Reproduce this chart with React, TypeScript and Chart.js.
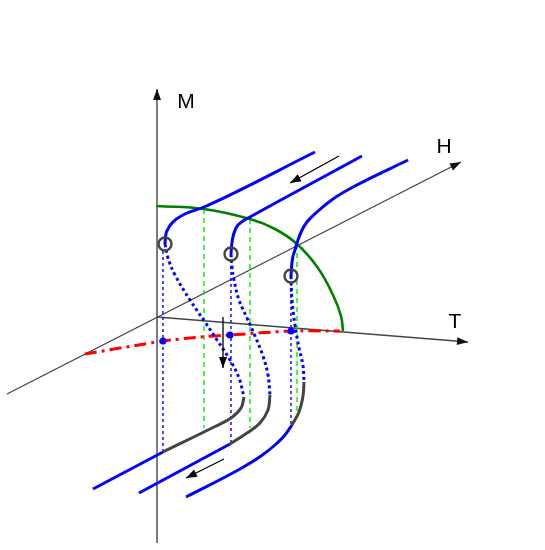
import React, { useEffect, useRef } from "react";
import { Chart, registerables } from "chart.js";

Chart.register(...registerables);

type P = [number, number];

// Axes (origin at M/H/T meeting point)
const axisM: P[] = [[157, 543], [157, 89]];
const axisH: P[] = [[7, 394], [461, 162]];
const axisT: P[] = [[157, 317], [468, 342]];

// Upper blue branches
const upper1: P[] = [[165, 244], [165.5, 237], [168, 229], [173, 222], [183, 215], [204, 207], [315, 152]];
const upper2: P[] = [[231, 254], [231.5, 247], [232.5, 239], [236, 228], [243, 221], [250, 217], [362, 156]];
const upper3: P[] = [[291, 276], [292, 262], [295, 250], [298, 240], [302, 230], [307, 222], [317, 212], [333, 199], [353, 187], [408, 160]];

// Dotted unstable branches
const dotted1: P[] = [[165, 244], [168, 258], [175, 275], [190, 300], [205, 322], [217, 340], [230, 360], [239, 378], [244, 397]];
const dotted2: P[] = [[231, 254], [232, 268], [234, 280], [239, 300], [247, 318], [255, 336], [263, 356], [268, 375], [270, 395]];
const dotted3: P[] = [[291, 276], [292, 300], [295, 325], [299, 348], [303, 366], [304, 382]];

// Dark gray metastable pieces
const gray1: P[] = [[244, 397], [241, 408], [231, 418], [212, 428], [163, 452]];
const gray2: P[] = [[270, 395], [268, 410], [260, 423], [247, 433], [230, 444]];
const gray3: P[] = [[304, 382], [303, 396], [299, 412], [292, 425]];

// Lower blue branches
const lower1: P[] = [[93, 489], [163, 452]];
const lower2: P[] = [[139, 493], [230, 444]];
const lower3: P[] = [[186, 497], [240, 469], [261, 456], [275, 445], [285, 435], [292, 425]];

// Green critical curve
const greenCurve: P[] = [[157, 206], [204, 209], [250, 219], [275, 229], [297, 244], [318, 268], [333, 295], [341, 316], [343, 331]];

// Red dash-dot projection
const redLine: P[] = [[85, 354], [163, 341], [200, 337], [230, 335], [291, 331], [340, 331]];

// Green dashed verticals
const greenV1: P[] = [[204, 209], [204, 428]];
const greenV2: P[] = [[250, 219], [250, 428]];
const greenV3: P[] = [[297, 244], [297, 413]];

// Blue dotted verticals
const blueV1: P[] = [[163, 251], [163, 452]];
const blueV2: P[] = [[231, 260], [231, 444]];
const blueV3: P[] = [[291, 283], [291, 425]];

const blueDots: P[] = [[163, 341], [230, 335], [291, 331]];
const circles: P[] = [[165, 244], [231, 254], [291, 276]];

// Direction arrows [from, to]
const arrowTop: P[] = [[339, 156], [290, 183]];
const arrowBottom: P[] = [[224, 459], [186, 478]];
const arrowDown: P[] = [[223, 317], [223, 368]];

const labels: { text: string; at: P }[] = [
  { text: "M", at: [186, 102] },
  { text: "H", at: [444, 147] },
  { text: "T", at: [455, 322] },
];

const toXY = (a: P[]) => a.map(([x, y]) => ({ x, y }));

function line(data: P[], color: string, width: number, dash: number[] = [], tension = 0.4, mono = false) {
  return {
    data: toXY(data),
    showLine: true,
    borderColor: color,
    backgroundColor: color,
    borderWidth: width,
    borderDash: dash,
    pointRadius: 0,
    tension,
    cubicInterpolationMode: mono ? "monotone" : "default",
    fill: false,
    borderCapStyle: "butt" as const,
  };
}

const overlay = {
  id: "overlay",
  afterDatasetsDraw(chart: any) {
    const { ctx, scales } = chart;
    const px = (p: P) => [scales.x.getPixelForValue(p[0]), scales.y.getPixelForValue(p[1])];
    const head = (from: P, to: P, color: string, len: number, hw: number) => {
      const [x1, y1] = px(from);
      const [x2, y2] = px(to);
      const a = Math.atan2(y2 - y1, x2 - x1);
      ctx.save();
      ctx.fillStyle = color;
      ctx.beginPath();
      ctx.moveTo(x2, y2);
      ctx.lineTo(x2 - len * Math.cos(a) + hw * Math.sin(a), y2 - len * Math.sin(a) - hw * Math.cos(a));
      ctx.lineTo(x2 - len * Math.cos(a) - hw * Math.sin(a), y2 - len * Math.sin(a) + hw * Math.cos(a));
      ctx.closePath();
      ctx.fill();
      ctx.restore();
    };
    head(axisM[0], axisM[1], "#111", 11, 4);
    head(axisH[0], axisH[1], "#111", 11, 4);
    head(axisT[0], axisT[1], "#111", 11, 4);
    head(arrowTop[0], arrowTop[1], "#000", 11, 4);
    head(arrowBottom[0], arrowBottom[1], "#000", 11, 4);
    head(arrowDown[0], arrowDown[1], "#000", 11, 4);
    ctx.save();
    ctx.fillStyle = "#000";
    ctx.font = '21px "Liberation Sans", Arial, sans-serif';
    ctx.textAlign = "center";
    ctx.textBaseline = "middle";
    labels.forEach((l) => {
      const [x, y] = px(l.at);
      ctx.fillText(l.text, x, y);
    });
    ctx.restore();
  },
};

export default function App() {
  const ref = useRef<HTMLCanvasElement | null>(null);
  useEffect(() => {
    if (!ref.current) return;
    const datasets: any[] = [
      {
        data: toXY(circles),
        showLine: false,
        pointRadius: 6.5,
        pointBorderWidth: 2.4,
        pointBorderColor: "#444",
        pointBackgroundColor: "rgba(0,0,0,0)",
      },
      {
        data: toXY(blueDots),
        showLine: false,
        pointRadius: 3.5,
        pointBorderWidth: 0,
        pointBackgroundColor: "#0000ff",
      },
      line(arrowTop, "#000", 1.3, [], 0),
      line(arrowBottom, "#000", 1.3, [], 0),
      line(arrowDown, "#000", 1.3, [], 0),
      line(upper1, "#0000ff", 3, [], 0.4, true),
      line(upper2, "#0000ff", 3, [], 0.4, true),
      line(upper3, "#0000ff", 3, [], 0.4, true),
      line(lower1, "#0000ff", 3, [], 0),
      line(lower2, "#0000ff", 3, [], 0),
      line(lower3, "#0000ff", 3, [], 0.4, true),
      line(gray1, "#444444", 3),
      line(gray2, "#444444", 3),
      line(gray3, "#444444", 3),
      line(dotted1, "#0000ff", 3, [3, 3]),
      line(dotted2, "#0000ff", 3, [3, 3]),
      line(dotted3, "#0000ff", 3, [3, 3]),
      line(greenCurve, "#008000", 2.6, [], 0.4),
      line(redLine, "#ff0000", 3, [12, 5, 3, 5], 0.2),
      line(blueV1, "#0000ff", 1.4, [3, 3], 0),
      line(blueV2, "#0000ff", 1.4, [3, 3], 0),
      line(blueV3, "#0000ff", 1.4, [3, 3], 0),
      line(greenV1, "#00ee00", 1.4, [5, 4], 0),
      line(greenV2, "#00ee00", 1.4, [5, 4], 0),
      line(greenV3, "#00ee00", 1.4, [5, 4], 0),
      line(axisM, "#444444", 1.4, [], 0),
      line(axisH, "#444444", 1.4, [], 0),
      line(axisT, "#444444", 1.4, [], 0),
    ];
    const chart = new Chart(ref.current, {
      type: "scatter",
      data: { datasets },
      options: {
        responsive: false,
        animation: false,
        layout: { padding: 0, autoPadding: false },
        plugins: { legend: { display: false }, tooltip: { enabled: false } },
        scales: {
          x: { type: "linear", min: 0, max: 545, display: false },
          y: { type: "linear", min: 0, max: 550, reverse: true, display: false },
        },
      },
      plugins: [overlay],
    });
    return () => chart.destroy();
  }, []);
  return (
    <div style={{ position: "absolute", left: 0, top: 0, width: 545, height: 550, background: "#fff" }}>
      <canvas ref={ref} width={545} height={550} />
    </div>
  );
}
